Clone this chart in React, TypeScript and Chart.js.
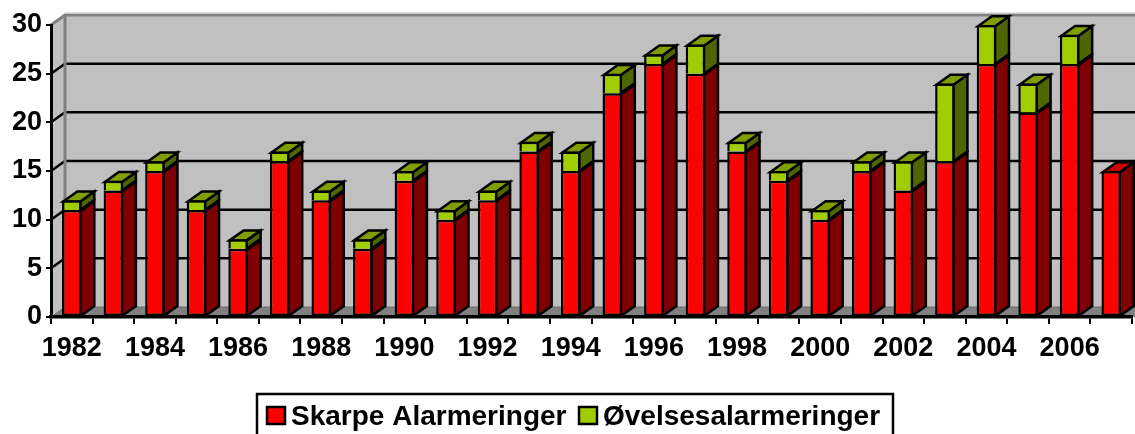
import React, { useEffect, useRef } from "react";
import { Chart, registerables } from "chart.js";

Chart.register(...registerables);

const years = ["1982","1983","1984","1985","1986","1987","1988","1989","1990","1991","1992","1993","1994","1995","1996","1997","1998","1999","2000","2001","2002","2003","2004","2005","2006","2007"];
const skarpe = [11,13,15,11,7,16,12,7,14,10,12,17,15,23,26,25,17,14,10,15,13,16,26,21,26,15];
const ovelse = [1,1,1,1,1,1,1,1,1,1,1,1,2,2,1,3,1,1,1,1,3,8,4,3,3,0];

const LEGEND_FONT = "bold 28px 'Liberation Sans', Arial, sans-serif";
const DX = 14;
const DY = 10;
const LINE = 2.5;

const poly = (ctx: CanvasRenderingContext2D, pts: number[][], fill?: string, stroke?: string, lw = 2) => {
  ctx.beginPath();
  pts.forEach((p, i) => (i ? ctx.lineTo(p[0], p[1]) : ctx.moveTo(p[0], p[1])));
  if (fill) {
    ctx.closePath();
    ctx.fillStyle = fill;
    ctx.fill();
  }
  if (stroke) {
    ctx.strokeStyle = stroke;
    ctx.lineWidth = lw;
    ctx.stroke();
  }
};

const wallsPlugin = {
  id: "walls",
  beforeDraw(chart: any) {
    const { ctx, chartArea: a, scales } = chart;
    const yS = scales.y;
    const W = chart.width;
    const y0 = yS.getPixelForValue(0);
    const yTop = yS.getPixelForValue(30);
    ctx.save();
    poly(ctx, [[a.left + DX, yTop - DY], [W, yTop - DY], [W, y0 - DY], [a.left + DX, y0 - DY]], "#c0c0c0");
    poly(ctx, [[a.left, yTop], [a.left + DX, yTop - DY], [a.left + DX, y0 - DY], [a.left, y0]], "#c0c0c0");
    poly(ctx, [[a.left, y0], [a.left + DX, y0 - DY], [W, y0 - DY], [W, y0]], "#808080");
    poly(ctx, [[a.left + DX, y0 - DY], [W, y0 - DY]], undefined, "#6e6e6e", 1);
    yS.ticks.forEach((t: any) => {
      if (t.value === 0 || t.value === 30) return;
      const y = yS.getPixelForValue(t.value);
      poly(ctx, [[a.left, y], [a.left + DX, y - DY], [W, y - DY]], undefined, "#000000", LINE);
    });
    poly(ctx, [[a.left, yTop], [a.left + DX, yTop - DY], [W, yTop - DY]], undefined, "#808080", 3);
    poly(ctx, [[W, yTop - DY - 2], [a.left + DX, yTop - DY - 2]], undefined, "#c8c8c8", 1);
    poly(ctx, [[a.left + DX, yTop - DY], [a.left + DX, y0 - DY]], undefined, "#808080", 3);
    poly(ctx, [[a.left, y0], [a.left + DX, y0 - DY]], undefined, "#6e6e6e", 1);
    ctx.restore();
  },
  beforeDatasetsDraw(chart: any) {
    const { ctx } = chart;
    ctx.save();
    ctx.lineJoin = "miter";
    chart.data.datasets.forEach((ds: any, di: number) => {
      chart.getDatasetMeta(di).data.forEach((el: any, i: number) => {
        if (!ds.data[i]) return;
        const { x, y, base, width } = el.getProps(["x", "y", "base", "width"], true);
        const L = x - width / 2 + LINE / 2;
        const R = x + width / 2 - LINE / 2;
        const top = y + LINE / 2;
        poly(ctx, [[R, top], [R + DX, top - DY], [R + DX, base - DY], [R, base]], ds.sideColor, "#000000", LINE);
        const isTop = !chart.data.datasets.slice(di + 1).some((o: any) => o.data[i]);
        if (isTop) {
          poly(ctx, [[L, top], [L + DX, top - DY], [R + DX, top - DY], [R, top]], ds.topColor, "#000000", LINE);
        }
      });
    });
    ctx.restore();
  },
  afterDraw(chart: any) {
    const { ctx } = chart;
    const boxLeft = 257;
    const boxTop = 394;
    const boxRight = 893;
    const swatchX = [267, 579];
    const textX = [291, 603];
    const centerY = 416;
    ctx.save();
    ctx.strokeStyle = "#000000";
    ctx.lineWidth = LINE;
    ctx.strokeRect(boxLeft, boxTop, boxRight - boxLeft, 60);
    ctx.font = LEGEND_FONT;
    ctx.textBaseline = "middle";
    ctx.textAlign = "left";
    chart.data.datasets.forEach((ds: any, i: number) => {
      ctx.fillStyle = ds.backgroundColor;
      ctx.fillRect(swatchX[i], centerY - 9, 18, 17);
      ctx.strokeRect(swatchX[i], centerY - 9, 18, 17);
      ctx.fillStyle = "#000000";
      ctx.fillText(ds.label, textX[i], centerY + 1);
    });
    ctx.restore();
  },
};

export default function App() {
  const ref = useRef<HTMLCanvasElement>(null);
  useEffect(() => {
    document.body.style.margin = "0";
    const tickFont = { family: "'Liberation Sans', Arial, sans-serif", size: 27, weight: "bold" as const };
    const chart = new Chart(ref.current!, {
      type: "bar",
      data: {
        labels: years,
        datasets: [
          {
            label: "Skarpe Alarmeringer",
            data: skarpe,
            backgroundColor: "#ff0000",
            borderColor: "#000000",
            borderWidth: LINE,
            borderSkipped: false,
            sideColor: "#7f0000",
            topColor: "#cc0000",
          } as any,
          {
            label: "Øvelsesalarmeringer",
            data: ovelse,
            backgroundColor: "#a0cc00",
            borderColor: "#000000",
            borderWidth: { top: LINE, left: LINE, right: LINE, bottom: 0 },
            borderSkipped: false,
            sideColor: "#4f6500",
            topColor: "#7f9f00",
          } as any,
        ],
      },
      options: {
        responsive: false,
        animation: false,
        barPercentage: 0.47,
        categoryPercentage: 1,
        layout: { padding: { left: 0, right: 3, top: 25, bottom: 0 } },
        plugins: { legend: { display: false }, tooltip: { enabled: false } },
        scales: {
          x: {
            stacked: true,
            border: { color: "#000000", width: 3.5, z: 1 },
            grid: { display: true, drawOnChartArea: false, drawTicks: true, tickLength: 7, color: "#000000", lineWidth: 2, offset: true },
            ticks: {
              font: tickFont,
              color: "#000000",
              autoSkip: false,
              maxRotation: 0,
              minRotation: 0,
              padding: 8,
              callback: (_v: any, i: number) => (i % 2 === 0 ? years[i] : ""),
            },
            afterFit: (s: any) => { s.height = 117; },
          },
          y: {
            stacked: true,
            min: 0,
            max: 30,
            border: { color: "#000000", width: 3, z: 1 },
            grid: { display: true, drawOnChartArea: false, drawTicks: true, tickLength: 5, color: "#000000", lineWidth: 2 },
            ticks: { font: tickFont, color: "#000000", stepSize: 5, padding: 4 },
            afterFit: (s: any) => { s.width = 51; },
          },
        },
      },
      plugins: [wallsPlugin],
    } as any);
    return () => chart.destroy();
  }, []);
  return <canvas ref={ref} width={1135} height={434} style={{ display: "block" }} />;
}
